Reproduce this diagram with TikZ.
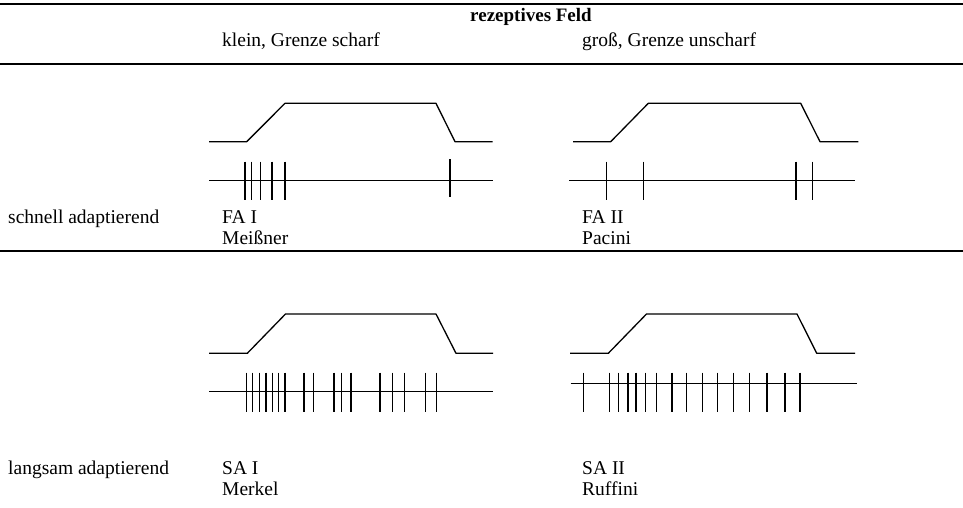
\documentclass[tikz,border=0pt]{standalone}
\usepackage{fontspec}
\setmainfont{Liberation Serif}
\begin{document}
\begin{tikzpicture}[x=1pt,y=-1pt,
  lbl/.style={anchor=base west,inner sep=0pt,font=\fontsize{19.5}{21}\selectfont},
  rule/.style={line width=1.1pt},
  trace/.style={line width=1.3pt,line join=round},
  spike/.style={line width=1.1pt}]
\useasboundingbox (0,0) rectangle (963,508);
\fill[white] (0,0) rectangle (963,508);

% table rules
\coordinate (r0l) at (0,4);   \coordinate (r0r) at (963,4);
\coordinate (r1l) at (0,64);  \coordinate (r1r) at (963,64);
\coordinate (r2l) at (0,251); \coordinate (r2r) at (963,251);
\draw[line width=1.8pt] (r0l) -- (r0r);
\draw[rule] (r1l) -- (r1r);
\draw[rule] (r2l) -- (r2r);

% header
\node[anchor=base,inner sep=0pt,font=\fontsize{19}{22}\selectfont\bfseries] (hdr) at (531,22) {rezeptives Feld};
\node[lbl] (c1) at (222,47) {klein, Grenze scharf};
\node[lbl] (c2) at (582,47) {groß, Grenze unscharf};

% row labels: first line of each cell, then the receptor name below it
\node[lbl] (row1) at (8,223) {schnell adaptierend};
\node[lbl] (fa1) at (222,223) {FA I};
\node[lbl] (fa1b) at (222,244.5) {Meißner};
\node[lbl] (fa2) at (582,223) {FA II};
\node[lbl] (fa2b) at (582,244.5) {Pacini};

\node[lbl] (row2) at (8,474) {langsam adaptierend};
\node[lbl] (sa1) at (222,474) {SA I};
\node[lbl] (sa1b) at (222,495.5) {Merkel};
\node[lbl] (sa2) at (582,474) {SA II};
\node[lbl] (sa2b) at (582,495.5) {Ruffini};

% stimulus ramps
\draw[trace] (209,141.7) -- (246.7,141.7) -- (285,103.3) -- (436,103.3) -- (455,141.7) -- (492.7,141.7);
\draw[trace] (573,141.7) -- (610.7,141.7) -- (648.3,103.3) -- (800.7,103.3) -- (820,141.7) -- (858.3,141.7);
\draw[trace] (209,353.3) -- (247.3,353.3) -- (285.5,314) -- (436,314) -- (456,353.3) -- (493,353.3);
\draw[trace] (570,353.3) -- (608.3,353.3) -- (646.5,314) -- (797,314) -- (816.7,353.3) -- (855,353.3);

% spike trains
\draw[trace] (209,180.5) -- (493,180.5);
\foreach \x in {245,251.7,260.7,272,285} \draw[spike] (\x,161.5) -- (\x,199.5);
\draw[spike] (450,159) -- (450,197);

\draw[trace] (569,180.5) -- (855,180.5);
\foreach \x in {606.7,643.3,796,812.7} \draw[spike] (\x,161.5) -- (\x,199.5);

\draw[trace] (209,391.7) -- (493,391.7);
\foreach \x in {246.7,252.7,259.3,266,272.7,278.7,285,304,313.3,334,341.7,351,380,392.3,404.3,425.7,436.7}
  \draw[spike] (\x,372.5) -- (\x,411.5);

\draw[trace] (570.7,383.3) -- (856.7,383.3);
\foreach \x in {583.3,609.3,618.3,628,636,645.3,656.7,672,686.7,702.3,717.7,733.7,749.7,767,785,800}
  \draw[spike] (\x,372.5) -- (\x,411.5);
\end{tikzpicture}
\end{document}
